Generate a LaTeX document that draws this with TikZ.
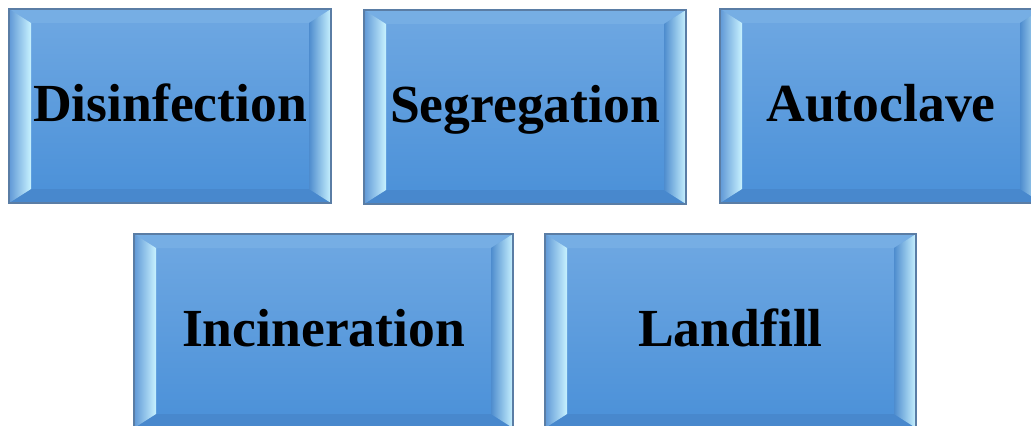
\documentclass[tikz,border=0pt]{standalone}
\usepackage{fontspec}
\setmainfont{Liberation Serif}
\usetikzlibrary{calc}

\definecolor{facetop}{RGB}{111,168,226}
\definecolor{facebot}{RGB}{74,144,216}
\definecolor{rimcol}{RGB}{90,125,165}
\definecolor{bevlight}{RGB}{200,242,255}
\definecolor{bevtop}{RGB}{118,174,228}
\definecolor{bevbot}{RGB}{72,136,205}
\definecolor{bevlout}{RGB}{95,152,214}
\definecolor{bevrin}{RGB}{78,140,206}

\newcommand{\bevx}{0.44}
\newcommand{\bevy}{0.28}

\tikzset{
  bevelbox/.style={rectangle, draw=rimcol, line width=0.8pt,
    top color=facetop, bottom color=facebot,
    inner sep=0pt, outer sep=0pt, minimum height=3.88cm,
    text height=22.5pt, text depth=4.3pt,
    font=\fontsize{30.5}{36}\selectfont\bfseries,
    path picture={
      \path (path picture bounding box.north west) coordinate (pnw)
            (path picture bounding box.south east) coordinate (pse)
            (pnw -| pse) coordinate (pne)
            (pnw |- pse) coordinate (psw)
            ($(pnw)+(\bevx,-\bevy)$) coordinate (qnw)
            ($(pne)+(-\bevx,-\bevy)$) coordinate (qne)
            ($(pse)+(-\bevx,\bevy)$) coordinate (qse)
            ($(psw)+(\bevx,\bevy)$) coordinate (qsw);
      \fill[bevtop] (pnw) -- (pne) -- (qne) -- (qnw) -- cycle;
      \fill[bevbot] (psw) -- (pse) -- (qse) -- (qsw) -- cycle;
      \shade[left color=bevlout, right color=bevlight] (pnw) -- (qnw) -- (qsw) -- (psw) -- cycle;
      \shade[left color=bevrin, right color=bevlight] (pne) -- (qne) -- (qse) -- (pse) -- cycle;
    }}
}

\begin{document}
\begin{tikzpicture}
  \clip (0,0) rectangle (20.62,-8.52);
  \useasboundingbox (0,0) rectangle (20.62,-8.52);
  % top row
  \node [bevelbox, minimum width=6.44cm] (dis) at (3.40,-2.12) {Disinfection};
  \node [bevelbox, minimum width=6.44cm] (seg) at (10.50,-2.14) {Segregation};
  \node [bevelbox, minimum width=6.44cm] (aut) at (17.62,-2.12) {Autoclave};
  % bottom row
  \node [bevelbox, minimum width=7.58cm] (inc) at (6.47,-6.62) {Incineration};
  \node [bevelbox, minimum width=7.42cm] (lan) at (14.61,-6.62) {Landfill};
\end{tikzpicture}
\end{document}
